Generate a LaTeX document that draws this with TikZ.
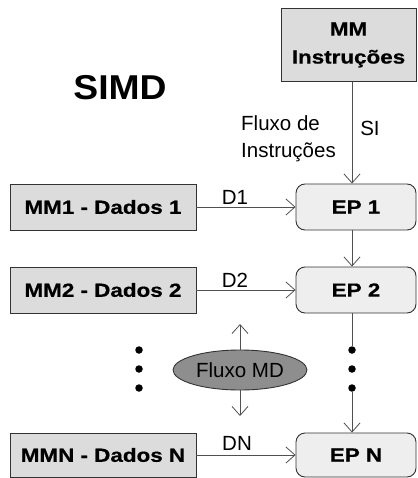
\documentclass[tikz,border=0pt]{standalone}
\usepackage{fontspec}
\setmainfont{Liberation Sans}
\newfontfamily\bwide{Liberation Sans}[FakeStretch=1.18,FakeBold=0.6]
\newfontfamily\bsimd{Liberation Sans}[FakeStretch=1.08]
\usetikzlibrary{arrows.meta,shapes.geometric}
\definecolor{memfill}{HTML}{DCDCDC}
\definecolor{epfill}{HTML}{EEEEEE}
\definecolor{linegray}{HTML}{505050}
\definecolor{mdfill}{HTML}{8E8E8E}
\begin{document}
\begin{tikzpicture}[x=1pt,y=-1pt,
  membox/.style={draw=black!80,line width=0.9pt,fill=memfill,rectangle,inner sep=0pt,
    font=\bwide\bfseries\fontsize{19}{28}\selectfont,align=center},
  epbox/.style={draw=black!80,line width=0.9pt,fill=epfill,rectangle,rounded corners=9pt,inner sep=0pt,
    font=\bwide\bfseries\fontsize{19}{28}\selectfont},
  flow/.style={draw=linegray,line width=0.8pt,-{Straight Barb[length=9pt,width=16pt,line width=0.8pt]}},
  plain/.style={draw=linegray,line width=0.8pt},
  lbl/.style={font=\fontsize{20.5}{27}\selectfont,inner sep=0pt},
  dot/.style={circle,fill=black,inner sep=0pt,minimum size=7.5pt}]
\useasboundingbox (0,0) rectangle (417,478);

% memories and processing elements
\node[membox,minimum width=135pt,minimum height=73pt] (mmi) at (348.5,45) {MM\\Instruções};
\node[membox,minimum width=186pt,minimum height=46pt] (mm1) at (103,207) {MM1 - Dados 1};
\node[membox,minimum width=186pt,minimum height=46pt] (mm2) at (103,290) {MM2 - Dados 2};
\node[membox,minimum width=186pt,minimum height=44pt] (mmn) at (103,455) {MMN - Dados N};
\node[epbox,minimum width=120pt,minimum height=46pt] (ep1) at (356,207) {EP 1};
\node[epbox,minimum width=120pt,minimum height=46pt] (ep2) at (356,290) {EP 2};
\node[epbox,minimum width=120pt,minimum height=44pt] (epn) at (356,455) {EP N};

% title and labels
\node[font=\bsimd\bfseries\fontsize{34.5}{36}\selectfont,inner sep=0pt] (title) at (120,88) {SIMD};
\node[lbl,align=left,anchor=north west] (fi) at (241,115) {Fluxo de\\Instruções};
\node[lbl] (si) at (370,128) {SI};
\node[lbl] (d1) at (235,197) {D1};
\node[lbl] (d2) at (235,280) {D2};
\node[lbl] (dn) at (237,443) {DN};

% data stream ellipse
\node[ellipse,draw=black!80,line width=0.9pt,fill=mdfill,minimum width=134pt,minimum height=40pt,
  inner sep=0pt,font=\fontsize{20.5}{22}\selectfont] (md) at (240,370) {Fluxo MD};
\coordinate (mdup) at (240,324);
\coordinate (mddown) at (240,416);

% ellipsis dots
\node[dot] (l1) at (139,350) {};
\node[dot] (l2) at (139,369) {};
\node[dot] (l3) at (139,388) {};
\node[dot] (r1) at (352,350) {};
\node[dot] (r2) at (352,369) {};
\node[dot] (r3) at (352,388) {};

% instruction stream
\draw[flow] (mmi.south -| r1) -- (ep1.north -| r1);
\draw[flow] (ep1.south -| r1) -- (ep2.north -| r1);
\draw[plain] (ep2.south -| r1) -- (r1);
\draw[flow] (r3) -- (epn.north -| r3);

% data streams
\draw[flow] (mm1) -- (ep1);
\draw[flow] (mm2) -- (ep2);
\draw[flow] (mmn) -- (epn);
\draw[flow] (md.north) -- (mdup);
\draw[flow] (md.south) -- (mddown);
\end{tikzpicture}
\end{document}
